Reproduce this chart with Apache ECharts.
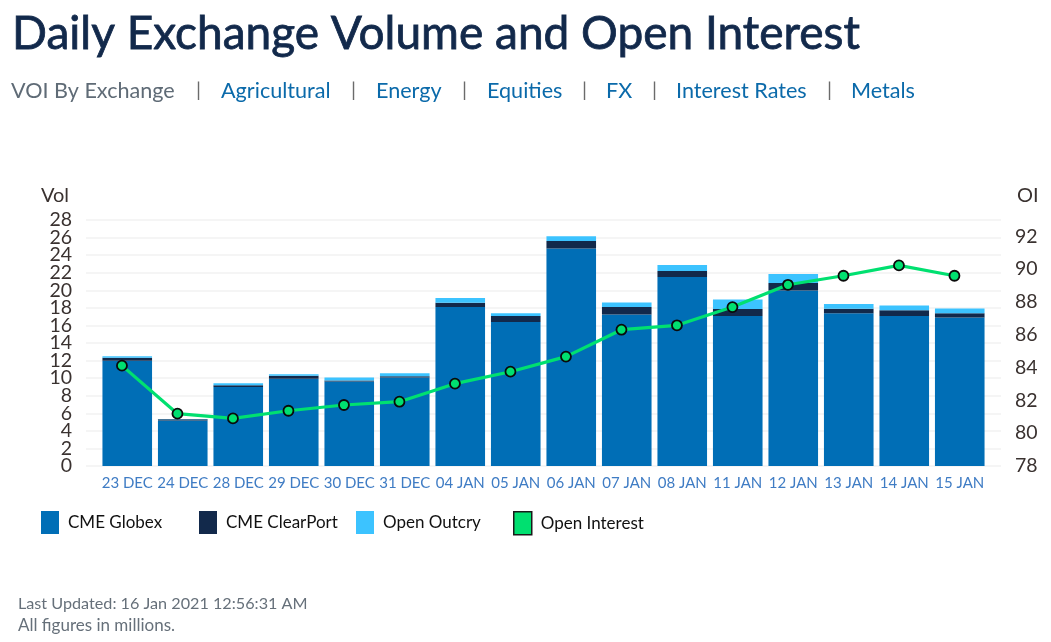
<!DOCTYPE html>
<html>
<head>
<meta charset="utf-8">
<style>html,body{margin:0;padding:0;background:#fff}#c{width:1051px;height:642px}</style>
<script src="https://cdn.jsdelivr.net/npm/echarts@6/dist/echarts.min.js"></script>
</head>
<body>
<div id="c"></div>
<script>
const categories = ['23 DEC','24 DEC','28 DEC','29 DEC','30 DEC','31 DEC','04 JAN','05 JAN','06 JAN','07 JAN','08 JAN','11 JAN','12 JAN','13 JAN','14 JAN','15 JAN'];
const globex    = [11.97,5.17,9.0,9.92,9.61,10.07,18.09,16.38,24.77,17.25,21.5,17.06,19.98,17.4,17.06,16.9];
const clearPort = [0.34,0.15,0.2,0.34,0.12,0.15,0.49,0.68,0.83,0.84,0.69,0.8,0.84,0.5,0.68,0.5];
const outcry    = [0.19,0.04,0.22,0.19,0.34,0.34,0.53,0.34,0.54,0.53,0.68,1.1,1.03,0.53,0.54,0.53];
const openInterest = [84.12,81.19,80.9,81.37,81.72,81.92,83.02,83.75,84.67,86.31,86.58,87.69,89.05,89.6,90.23,89.6];

const FONT = 'Lato';
const navItems = [
  ['VOI By Exchange', 11, '#5f6b76'], ['|', 196, '#6b6b6b'],
  ['Agricultural', 221, '#0b6aaa'], ['|', 351, '#6b6b6b'],
  ['Energy', 376, '#0b6aaa'], ['|', 462, '#6b6b6b'],
  ['Equities', 487, '#0b6aaa'], ['|', 582, '#6b6b6b'],
  ['FX', 606, '#0b6aaa'], ['|', 652, '#6b6b6b'],
  ['Interest Rates', 676, '#0b6aaa'], ['|', 827, '#6b6b6b'],
  ['Metals', 851, '#0b6aaa']
];
const txt = (text, x, y, size, fill, extra) => ({
  type: 'text', x, y,
  style: Object.assign({ text, fill, fontFamily: FONT, fontSize: size, fontWeight: 400, textVerticalAlign: 'middle' }, extra || {})
});
const legendAt = (name, left, color, border) => ({
  left, top: 511, padding: 0, itemWidth: 18, itemHeight: 23, itemGap: 0, selectedMode: false,
  textStyle: { fontFamily: FONT, fontSize: 17, color: '#111', padding: [3, 0, 0, 4] },
  data: [{ name, icon: 'rect', itemStyle: { color, borderColor: border || color, borderWidth: border ? 1.5 : 0 } }]
});
const tickStyle = { margin: 14, fontFamily: FONT, fontSize: 19.5, color: '#3a3230' };

const chart = echarts.init(document.getElementById('c'), null, { renderer: 'canvas' });
const TOP = 220, BOTTOM = 642 - 466;
chart.setOption({
  animation: false,
  backgroundColor: '#fff',
  graphic: [
    txt('Daily Exchange Volume and Open Interest', 12, 34, 46, '#12294b', { stroke: '#12294b', lineWidth: 0.8 }),
    ...navItems.map(n => txt(n[0], n[1], 91, n[0] === '|' ? 20 : 21.6, n[2])),
    txt('Last Updated: 16 Jan 2021 12:56:31 AM', 18, 604, 16.2, '#66707a'),
    txt('All figures in millions.', 18, 626, 17, '#66707a')
  ],
  legend: [
    legendAt('CME Globex', 41, '#006eb6'),
    legendAt('CME ClearPort', 199, '#12294b'),
    legendAt('Open Outcry', 356, '#3cc3ff'),
    legendAt('Open Interest', 513, '#00e070', '#1a1a1a')
  ],
  grid: [
    { left: 86, width: 915, top: TOP, bottom: BOTTOM },
    { left: 99.5, width: 888, top: TOP, bottom: BOTTOM },
    { left: 94.2, width: 888, top: TOP, bottom: BOTTOM }
  ],
  xAxis: [
    { gridIndex: 0, type: 'category', data: categories, show: false },
    { gridIndex: 1, type: 'category', data: categories,
      axisLine: { show: false }, axisTick: { show: false },
      axisLabel: { interval: 0, margin: 10, fontFamily: FONT, fontSize: 15, color: '#3f7cc4' } },
    { gridIndex: 2, type: 'category', data: categories, show: false }
  ],
  yAxis: [
    { gridIndex: 0, type: 'value', min: 0, max: 28, interval: 2, position: 'left',
      name: 'Vol', nameLocation: 'end', nameGap: 14,
      nameTextStyle: { fontFamily: FONT, fontSize: 20, color: '#3a3230', align: 'right', padding: [0, 17, 0, 0] },
      axisLine: { show: false }, axisTick: { show: false },
      axisLabel: Object.assign({ showMinLabel: false, showMaxLabel: false }, tickStyle),
      splitLine: { show: true, lineStyle: { color: '#f2f2f2', width: 1.5 } } },
    { gridIndex: 0, type: 'value', min: 78, max: 93, interval: 2, position: 'right',
      name: 'OI', nameLocation: 'end', nameGap: 14,
      nameTextStyle: { fontFamily: FONT, fontSize: 20, color: '#3a3230', align: 'left', padding: [0, 0, 0, 16] },
      axisLine: { show: false }, axisTick: { show: false },
      axisLabel: Object.assign({ showMinLabel: true, showMaxLabel: false }, tickStyle),
      splitLine: { show: false } },
    { gridIndex: 1, type: 'value', min: 0, max: 28, interval: 28, position: 'left', offset: 13.5,
      axisLine: { show: false }, axisTick: { show: false },
      axisLabel: Object.assign({ showMinLabel: true, showMaxLabel: true }, tickStyle),
      splitLine: { show: false } },
    { gridIndex: 2, type: 'value', min: 78, max: 93, show: false, splitLine: { show: false } }
  ],
  series: [
    { name: 'CME Globex', type: 'bar', stack: 'v', xAxisIndex: 1, yAxisIndex: 2, barWidth: 49.6, data: globex, itemStyle: { color: '#006eb6' } },
    { name: 'CME ClearPort', type: 'bar', stack: 'v', xAxisIndex: 1, yAxisIndex: 2, barWidth: 49.6, data: clearPort, itemStyle: { color: '#12294b' } },
    { name: 'Open Outcry', type: 'bar', stack: 'v', xAxisIndex: 1, yAxisIndex: 2, barWidth: 49.6, data: outcry, itemStyle: { color: '#3cc3ff' } },
    { name: 'Open Interest', type: 'line', xAxisIndex: 2, yAxisIndex: 3, data: openInterest, z: 5,
      symbol: 'circle', symbolSize: 10, showSymbol: true,
      lineStyle: { color: '#00e070', width: 3.2 },
      itemStyle: { color: '#00e070', borderColor: '#0a0a0a', borderWidth: 1.8 } }
  ]
});
</script>
</body>
</html>
